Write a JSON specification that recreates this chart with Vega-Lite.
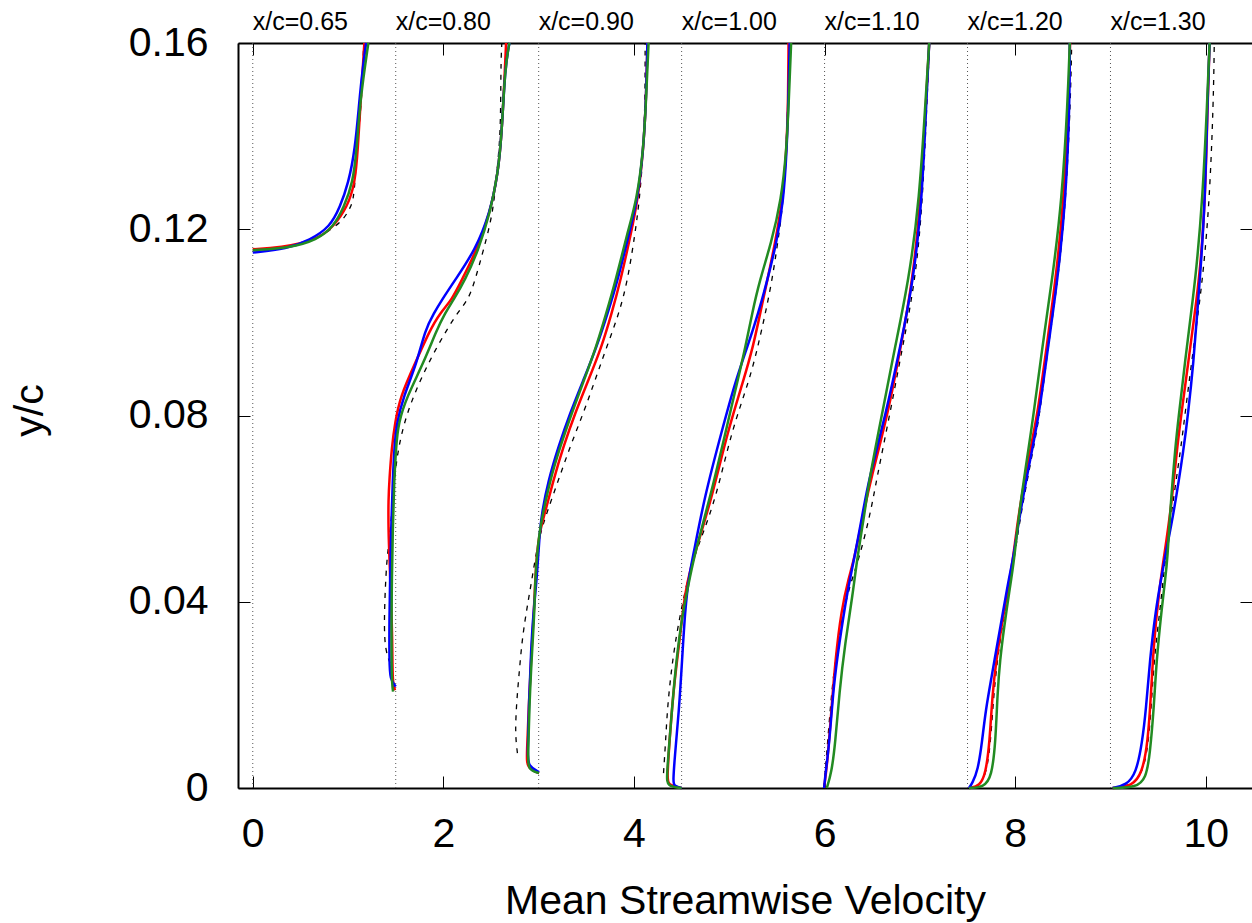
{
  "$schema": "https://vega.github.io/schema/vega-lite/v6.json",
  "autosize": {"type": "none"},
  "padding": {"left": 238, "top": 43, "right": 0, "bottom": 135},
  "width": 1014,
  "height": 745,
  "config": {
    "view": {"stroke": null},
    "font": "Liberation Sans",
    "axis": {
      "domainColor": "#000000", "domainWidth": 2, "tickColor": "#000000", "tickWidth": 1,
      "labelFont": "Liberation Sans", "labelFontSize": 41, "labelColor": "#000000",
      "titleFont": "Liberation Sans", "titleFontSize": 41, "titleFontWeight": "normal", "titleColor": "#000000",
      "labelFlush": false, "labelOverlap": false, "labelBound": false, "grid": false
    }
  },
  "datasets": {
    "st": [
      {"lab": "x/c=0.65", "off": 0},
      {"lab": "x/c=0.80", "off": 1.5},
      {"lab": "x/c=0.90", "off": 3.0},
      {"lab": "x/c=1.00", "off": 4.5},
      {"lab": "x/c=1.10", "off": 6.0},
      {"lab": "x/c=1.20", "off": 7.5},
      {"lab": "x/c=1.30", "off": 9.0}
    ],
    "p": [
      {"s":"exp","xc":"0.65","u":0.000,"y":0.1155},{"s":"exp","xc":"0.65","u":0.496,"y":0.1166},{"s":"exp","xc":"0.65","u":0.636,"y":0.1177},{"s":"exp","xc":"0.65","u":0.811,"y":0.1198},{"s":"exp","xc":"0.65","u":0.951,"y":0.1220},{"s":"exp","xc":"0.65","u":1.028,"y":0.1248},{"s":"exp","xc":"0.65","u":1.053,"y":0.1263},{"s":"exp","xc":"0.65","u":1.073,"y":0.1299},{"s":"exp","xc":"0.65","u":1.091,"y":0.1370},{"s":"exp","xc":"0.65","u":1.144,"y":0.1478},{"s":"exp","xc":"0.65","u":1.161,"y":0.1579},{"s":"exp","xc":"0.65","u":1.163,"y":0.16},
      {"s":"red","xc":"0.65","u":0.000,"y":0.1157},{"s":"red","xc":"0.65","u":0.286,"y":0.1160},{"s":"red","xc":"0.65","u":0.672,"y":0.1177},{"s":"red","xc":"0.65","u":0.846,"y":0.1205},{"s":"red","xc":"0.65","u":0.993,"y":0.1248},{"s":"red","xc":"0.65","u":1.073,"y":0.1299},{"s":"red","xc":"0.65","u":1.102,"y":0.1370},{"s":"red","xc":"0.65","u":1.133,"y":0.1478},{"s":"red","xc":"0.65","u":1.171,"y":0.16},
      {"s":"blue","xc":"0.65","u":0.000,"y":0.1150},{"s":"blue","xc":"0.65","u":0.357,"y":0.1158},{"s":"blue","xc":"0.65","u":0.601,"y":0.1177},{"s":"blue","xc":"0.65","u":0.811,"y":0.1205},{"s":"blue","xc":"0.65","u":0.916,"y":0.1248},{"s":"blue","xc":"0.65","u":1.003,"y":0.1299},{"s":"blue","xc":"0.65","u":1.073,"y":0.1370},{"s":"blue","xc":"0.65","u":1.119,"y":0.1478},{"s":"blue","xc":"0.65","u":1.152,"y":0.1542},{"s":"blue","xc":"0.65","u":1.189,"y":0.16},
      {"s":"green","xc":"0.65","u":0.000,"y":0.1155},{"s":"green","xc":"0.65","u":0.391,"y":0.1160},{"s":"green","xc":"0.65","u":0.672,"y":0.1177},{"s":"green","xc":"0.65","u":0.846,"y":0.1205},{"s":"green","xc":"0.65","u":0.958,"y":0.1248},{"s":"green","xc":"0.65","u":1.049,"y":0.1299},{"s":"green","xc":"0.65","u":1.091,"y":0.1370},{"s":"green","xc":"0.65","u":1.126,"y":0.1478},{"s":"green","xc":"0.65","u":1.213,"y":0.16},

      {"s":"exp","xc":"0.80","u":1.441,"y":0.0268},{"s":"exp","xc":"0.80","u":1.391,"y":0.0296},{"s":"exp","xc":"0.80","u":1.378,"y":0.0346},{"s":"exp","xc":"0.80","u":1.388,"y":0.0419},{"s":"exp","xc":"0.80","u":1.406,"y":0.0490},{"s":"exp","xc":"0.80","u":1.433,"y":0.0533},{"s":"exp","xc":"0.80","u":1.459,"y":0.0591},{"s":"exp","xc":"0.80","u":1.483,"y":0.0661},{"s":"exp","xc":"0.80","u":1.528,"y":0.0733},{"s":"exp","xc":"0.80","u":1.616,"y":0.0805},{"s":"exp","xc":"0.80","u":1.756,"y":0.0876},{"s":"exp","xc":"0.80","u":1.931,"y":0.0948},{"s":"exp","xc":"0.80","u":2.141,"y":0.1020},{"s":"exp","xc":"0.80","u":2.262,"y":0.1048},{"s":"exp","xc":"0.80","u":2.333,"y":0.1091},{"s":"exp","xc":"0.80","u":2.420,"y":0.1155},{"s":"exp","xc":"0.80","u":2.522,"y":0.1235},{"s":"exp","xc":"0.80","u":2.560,"y":0.1321},{"s":"exp","xc":"0.80","u":2.602,"y":0.1407},{"s":"exp","xc":"0.80","u":2.602,"y":0.1548},{"s":"exp","xc":"0.80","u":2.613,"y":0.16},
      {"s":"red","xc":"0.80","u":1.493,"y":0.0210},{"s":"red","xc":"0.80","u":1.465,"y":0.0225},{"s":"red","xc":"0.80","u":1.465,"y":0.0318},{"s":"red","xc":"0.80","u":1.451,"y":0.0404},{"s":"red","xc":"0.80","u":1.435,"y":0.0490},{"s":"red","xc":"0.80","u":1.423,"y":0.0554},{"s":"red","xc":"0.80","u":1.423,"y":0.0619},{"s":"red","xc":"0.80","u":1.433,"y":0.0661},{"s":"red","xc":"0.80","u":1.459,"y":0.0733},{"s":"red","xc":"0.80","u":1.493,"y":0.0784},{"s":"red","xc":"0.80","u":1.546,"y":0.0840},{"s":"red","xc":"0.80","u":1.703,"y":0.0912},{"s":"red","xc":"0.80","u":1.860,"y":0.0984},{"s":"red","xc":"0.80","u":1.965,"y":0.1020},{"s":"red","xc":"0.80","u":2.088,"y":0.1048},{"s":"red","xc":"0.80","u":2.193,"y":0.1091},{"s":"red","xc":"0.80","u":2.350,"y":0.1155},{"s":"red","xc":"0.80","u":2.490,"y":0.1235},{"s":"red","xc":"0.80","u":2.574,"y":0.1321},{"s":"red","xc":"0.80","u":2.613,"y":0.1407},{"s":"red","xc":"0.80","u":2.647,"y":0.1548},{"s":"red","xc":"0.80","u":2.658,"y":0.16},
      {"s":"blue","xc":"0.80","u":1.501,"y":0.0218},{"s":"blue","xc":"0.80","u":1.441,"y":0.0232},{"s":"blue","xc":"0.80","u":1.433,"y":0.0275},{"s":"blue","xc":"0.80","u":1.433,"y":0.0361},{"s":"blue","xc":"0.80","u":1.441,"y":0.0447},{"s":"blue","xc":"0.80","u":1.451,"y":0.0554},{"s":"blue","xc":"0.80","u":1.469,"y":0.0661},{"s":"blue","xc":"0.80","u":1.486,"y":0.0733},{"s":"blue","xc":"0.80","u":1.511,"y":0.0784},{"s":"blue","xc":"0.80","u":1.580,"y":0.0840},{"s":"blue","xc":"0.80","u":1.721,"y":0.0912},{"s":"blue","xc":"0.80","u":1.808,"y":0.0984},{"s":"blue","xc":"0.80","u":1.902,"y":0.1020},{"s":"blue","xc":"0.80","u":1.983,"y":0.1048},{"s":"blue","xc":"0.80","u":2.123,"y":0.1091},{"s":"blue","xc":"0.80","u":2.333,"y":0.1155},{"s":"blue","xc":"0.80","u":2.490,"y":0.1235},{"s":"blue","xc":"0.80","u":2.574,"y":0.1321},{"s":"blue","xc":"0.80","u":2.613,"y":0.1407},{"s":"blue","xc":"0.80","u":2.647,"y":0.1548},{"s":"blue","xc":"0.80","u":2.693,"y":0.16},
      {"s":"green","xc":"0.80","u":1.472,"y":0.0207},{"s":"green","xc":"0.80","u":1.456,"y":0.0232},{"s":"green","xc":"0.80","u":1.456,"y":0.0361},{"s":"green","xc":"0.80","u":1.459,"y":0.0447},{"s":"green","xc":"0.80","u":1.469,"y":0.0554},{"s":"green","xc":"0.80","u":1.483,"y":0.0661},{"s":"green","xc":"0.80","u":1.504,"y":0.0733},{"s":"green","xc":"0.80","u":1.528,"y":0.0784},{"s":"green","xc":"0.80","u":1.616,"y":0.0840},{"s":"green","xc":"0.80","u":1.790,"y":0.0912},{"s":"green","xc":"0.80","u":1.931,"y":0.0984},{"s":"green","xc":"0.80","u":2.018,"y":0.1020},{"s":"green","xc":"0.80","u":2.105,"y":0.1048},{"s":"green","xc":"0.80","u":2.228,"y":0.1091},{"s":"green","xc":"0.80","u":2.367,"y":0.1155},{"s":"green","xc":"0.80","u":2.490,"y":0.1235},{"s":"green","xc":"0.80","u":2.574,"y":0.1321},{"s":"green","xc":"0.80","u":2.613,"y":0.1407},{"s":"green","xc":"0.80","u":2.647,"y":0.1548},{"s":"green","xc":"0.80","u":2.693,"y":0.16},

      {"s":"exp","xc":"0.90","u":2.777,"y":0.0075},{"s":"exp","xc":"0.90","u":2.752,"y":0.0118},{"s":"exp","xc":"0.90","u":2.770,"y":0.0189},{"s":"exp","xc":"0.90","u":2.798,"y":0.0253},{"s":"exp","xc":"0.90","u":2.823,"y":0.0311},{"s":"exp","xc":"0.90","u":2.857,"y":0.0361},{"s":"exp","xc":"0.90","u":2.892,"y":0.0404},{"s":"exp","xc":"0.90","u":2.928,"y":0.0447},{"s":"exp","xc":"0.90","u":2.962,"y":0.0490},{"s":"exp","xc":"0.90","u":3.007,"y":0.0540},{"s":"exp","xc":"0.90","u":3.085,"y":0.0591},{"s":"exp","xc":"0.90","u":3.207,"y":0.0661},{"s":"exp","xc":"0.90","u":3.329,"y":0.0733},{"s":"exp","xc":"0.90","u":3.469,"y":0.0805},{"s":"exp","xc":"0.90","u":3.592,"y":0.0876},{"s":"exp","xc":"0.90","u":3.715,"y":0.0948},{"s":"exp","xc":"0.90","u":3.845,"y":0.1020},{"s":"exp","xc":"0.90","u":3.935,"y":0.1091},{"s":"exp","xc":"0.90","u":4.012,"y":0.1192},{"s":"exp","xc":"0.90","u":4.058,"y":0.1263},{"s":"exp","xc":"0.90","u":4.099,"y":0.1370},{"s":"exp","xc":"0.90","u":4.117,"y":0.1478},{"s":"exp","xc":"0.90","u":4.117,"y":0.16},
      {"s":"red","xc":"0.90","u":3.004,"y":0.0032},{"s":"red","xc":"0.90","u":2.875,"y":0.0043},{"s":"red","xc":"0.90","u":2.875,"y":0.0071},{"s":"red","xc":"0.90","u":2.899,"y":0.0189},{"s":"red","xc":"0.90","u":2.925,"y":0.0296},{"s":"red","xc":"0.90","u":2.952,"y":0.0382},{"s":"red","xc":"0.90","u":2.962,"y":0.0447},{"s":"red","xc":"0.90","u":2.994,"y":0.0540},{"s":"red","xc":"0.90","u":3.067,"y":0.0591},{"s":"red","xc":"0.90","u":3.154,"y":0.0661},{"s":"red","xc":"0.90","u":3.259,"y":0.0733},{"s":"red","xc":"0.90","u":3.382,"y":0.0805},{"s":"red","xc":"0.90","u":3.522,"y":0.0876},{"s":"red","xc":"0.90","u":3.662,"y":0.0948},{"s":"red","xc":"0.90","u":3.767,"y":0.1020},{"s":"red","xc":"0.90","u":3.860,"y":0.1091},{"s":"red","xc":"0.90","u":3.970,"y":0.1192},{"s":"red","xc":"0.90","u":4.040,"y":0.1263},{"s":"red","xc":"0.90","u":4.099,"y":0.1370},{"s":"red","xc":"0.90","u":4.127,"y":0.1478},{"s":"red","xc":"0.90","u":4.141,"y":0.16},
      {"s":"blue","xc":"0.90","u":3.004,"y":0.0034},{"s":"blue","xc":"0.90","u":2.889,"y":0.0047},{"s":"blue","xc":"0.90","u":2.884,"y":0.0071},{"s":"blue","xc":"0.90","u":2.899,"y":0.0189},{"s":"blue","xc":"0.90","u":2.920,"y":0.0296},{"s":"blue","xc":"0.90","u":2.946,"y":0.0382},{"s":"blue","xc":"0.90","u":2.980,"y":0.0447},{"s":"blue","xc":"0.90","u":3.007,"y":0.0540},{"s":"blue","xc":"0.90","u":3.033,"y":0.0591},{"s":"blue","xc":"0.90","u":3.102,"y":0.0661},{"s":"blue","xc":"0.90","u":3.207,"y":0.0733},{"s":"blue","xc":"0.90","u":3.329,"y":0.0805},{"s":"blue","xc":"0.90","u":3.469,"y":0.0876},{"s":"blue","xc":"0.90","u":3.610,"y":0.0948},{"s":"blue","xc":"0.90","u":3.725,"y":0.1020},{"s":"blue","xc":"0.90","u":3.830,"y":0.1091},{"s":"blue","xc":"0.90","u":3.950,"y":0.1192},{"s":"blue","xc":"0.90","u":4.036,"y":0.1263},{"s":"blue","xc":"0.90","u":4.099,"y":0.1370},{"s":"blue","xc":"0.90","u":4.127,"y":0.1478},{"s":"blue","xc":"0.90","u":4.141,"y":0.16},
      {"s":"green","xc":"0.90","u":3.004,"y":0.0032},{"s":"green","xc":"0.90","u":2.884,"y":0.0039},{"s":"green","xc":"0.90","u":2.889,"y":0.0071},{"s":"green","xc":"0.90","u":2.904,"y":0.0189},{"s":"green","xc":"0.90","u":2.931,"y":0.0296},{"s":"green","xc":"0.90","u":2.957,"y":0.0382},{"s":"green","xc":"0.90","u":2.962,"y":0.0447},{"s":"green","xc":"0.90","u":2.999,"y":0.0540},{"s":"green","xc":"0.90","u":3.046,"y":0.0591},{"s":"green","xc":"0.90","u":3.120,"y":0.0661},{"s":"green","xc":"0.90","u":3.225,"y":0.0733},{"s":"green","xc":"0.90","u":3.347,"y":0.0805},{"s":"green","xc":"0.90","u":3.476,"y":0.0876},{"s":"green","xc":"0.90","u":3.605,"y":0.0948},{"s":"green","xc":"0.90","u":3.710,"y":0.1020},{"s":"green","xc":"0.90","u":3.810,"y":0.1091},{"s":"green","xc":"0.90","u":3.930,"y":0.1192},{"s":"green","xc":"0.90","u":4.030,"y":0.1263},{"s":"green","xc":"0.90","u":4.099,"y":0.1370},{"s":"green","xc":"0.90","u":4.127,"y":0.1478},{"s":"green","xc":"0.90","u":4.153,"y":0.16},

      {"s":"exp","xc":"1.00","u":4.310,"y":0.0032},{"s":"exp","xc":"1.00","u":4.331,"y":0.0097},{"s":"exp","xc":"1.00","u":4.350,"y":0.0168},{"s":"exp","xc":"1.00","u":4.384,"y":0.0239},{"s":"exp","xc":"1.00","u":4.431,"y":0.0311},{"s":"exp","xc":"1.00","u":4.494,"y":0.0382},{"s":"exp","xc":"1.00","u":4.570,"y":0.0454},{"s":"exp","xc":"1.00","u":4.638,"y":0.0500},{"s":"exp","xc":"1.00","u":4.720,"y":0.0545},{"s":"exp","xc":"1.00","u":4.864,"y":0.0626},{"s":"exp","xc":"1.00","u":5.027,"y":0.0769},{"s":"exp","xc":"1.00","u":5.212,"y":0.0876},{"s":"exp","xc":"1.00","u":5.300,"y":0.0948},{"s":"exp","xc":"1.00","u":5.380,"y":0.1020},{"s":"exp","xc":"1.00","u":5.449,"y":0.1091},{"s":"exp","xc":"1.00","u":5.508,"y":0.1170},{"s":"exp","xc":"1.00","u":5.570,"y":0.1263},{"s":"exp","xc":"1.00","u":5.595,"y":0.1370},{"s":"exp","xc":"1.00","u":5.617,"y":0.1478},{"s":"exp","xc":"1.00","u":5.634,"y":0.16},
      {"s":"red","xc":"1.00","u":4.500,"y":0.0},{"s":"red","xc":"1.00","u":4.353,"y":0.0006},{"s":"red","xc":"1.00","u":4.350,"y":0.0024},{"s":"red","xc":"1.00","u":4.371,"y":0.0097},{"s":"red","xc":"1.00","u":4.412,"y":0.0204},{"s":"red","xc":"1.00","u":4.453,"y":0.0275},{"s":"red","xc":"1.00","u":4.494,"y":0.0346},{"s":"red","xc":"1.00","u":4.536,"y":0.0419},{"s":"red","xc":"1.00","u":4.589,"y":0.0468},{"s":"red","xc":"1.00","u":4.660,"y":0.0518},{"s":"red","xc":"1.00","u":4.820,"y":0.0626},{"s":"red","xc":"1.00","u":4.987,"y":0.0769},{"s":"red","xc":"1.00","u":5.150,"y":0.0876},{"s":"red","xc":"1.00","u":5.250,"y":0.0948},{"s":"red","xc":"1.00","u":5.325,"y":0.1020},{"s":"red","xc":"1.00","u":5.400,"y":0.1091},{"s":"red","xc":"1.00","u":5.480,"y":0.1170},{"s":"red","xc":"1.00","u":5.560,"y":0.1263},{"s":"red","xc":"1.00","u":5.601,"y":0.1370},{"s":"red","xc":"1.00","u":5.618,"y":0.1478},{"s":"red","xc":"1.00","u":5.622,"y":0.16},
      {"s":"blue","xc":"1.00","u":4.500,"y":0.0},{"s":"blue","xc":"1.00","u":4.416,"y":0.0004},{"s":"blue","xc":"1.00","u":4.412,"y":0.0017},{"s":"blue","xc":"1.00","u":4.425,"y":0.0060},{"s":"blue","xc":"1.00","u":4.473,"y":0.0168},{"s":"blue","xc":"1.00","u":4.505,"y":0.0275},{"s":"blue","xc":"1.00","u":4.536,"y":0.0382},{"s":"blue","xc":"1.00","u":4.576,"y":0.0454},{"s":"blue","xc":"1.00","u":4.627,"y":0.0505},{"s":"blue","xc":"1.00","u":4.741,"y":0.0626},{"s":"blue","xc":"1.00","u":4.924,"y":0.0769},{"s":"blue","xc":"1.00","u":5.068,"y":0.0876},{"s":"blue","xc":"1.00","u":5.191,"y":0.0948},{"s":"blue","xc":"1.00","u":5.305,"y":0.1020},{"s":"blue","xc":"1.00","u":5.400,"y":0.1091},{"s":"blue","xc":"1.00","u":5.495,"y":0.1170},{"s":"blue","xc":"1.00","u":5.570,"y":0.1263},{"s":"blue","xc":"1.00","u":5.603,"y":0.1370},{"s":"blue","xc":"1.00","u":5.621,"y":0.1478},{"s":"blue","xc":"1.00","u":5.634,"y":0.16},
      {"s":"green","xc":"1.00","u":4.500,"y":0.0},{"s":"green","xc":"1.00","u":4.347,"y":0.0004},{"s":"green","xc":"1.00","u":4.343,"y":0.0024},{"s":"green","xc":"1.00","u":4.384,"y":0.0132},{"s":"green","xc":"1.00","u":4.442,"y":0.0275},{"s":"green","xc":"1.00","u":4.515,"y":0.0382},{"s":"green","xc":"1.00","u":4.589,"y":0.0454},{"s":"green","xc":"1.00","u":4.640,"y":0.0505},{"s":"green","xc":"1.00","u":4.802,"y":0.0626},{"s":"green","xc":"1.00","u":4.967,"y":0.0769},{"s":"green","xc":"1.00","u":5.089,"y":0.0876},{"s":"green","xc":"1.00","u":5.171,"y":0.0948},{"s":"green","xc":"1.00","u":5.240,"y":0.1020},{"s":"green","xc":"1.00","u":5.320,"y":0.1091},{"s":"green","xc":"1.00","u":5.440,"y":0.1170},{"s":"green","xc":"1.00","u":5.545,"y":0.1263},{"s":"green","xc":"1.00","u":5.601,"y":0.1370},{"s":"green","xc":"1.00","u":5.625,"y":0.1478},{"s":"green","xc":"1.00","u":5.649,"y":0.16},

      {"s":"exp","xc":"1.10","u":5.991,"y":0.0},{"s":"exp","xc":"1.10","u":6.032,"y":0.0097},{"s":"exp","xc":"1.10","u":6.072,"y":0.0204},{"s":"exp","xc":"1.10","u":6.134,"y":0.0311},{"s":"exp","xc":"1.10","u":6.236,"y":0.0419},{"s":"exp","xc":"1.10","u":6.360,"y":0.0490},{"s":"exp","xc":"1.10","u":6.483,"y":0.0591},{"s":"exp","xc":"1.10","u":6.544,"y":0.0661},{"s":"exp","xc":"1.10","u":6.687,"y":0.0805},{"s":"exp","xc":"1.10","u":6.819,"y":0.0948},{"s":"exp","xc":"1.10","u":6.954,"y":0.1091},{"s":"exp","xc":"1.10","u":7.030,"y":0.1263},{"s":"exp","xc":"1.10","u":7.075,"y":0.1478},{"s":"exp","xc":"1.10","u":7.102,"y":0.16},
      {"s":"red","xc":"1.10","u":5.995,"y":0.0},{"s":"red","xc":"1.10","u":6.032,"y":0.0060},{"s":"red","xc":"1.10","u":6.072,"y":0.0168},{"s":"red","xc":"1.10","u":6.113,"y":0.0275},{"s":"red","xc":"1.10","u":6.175,"y":0.0382},{"s":"red","xc":"1.10","u":6.257,"y":0.0454},{"s":"red","xc":"1.10","u":6.309,"y":0.0490},{"s":"red","xc":"1.10","u":6.409,"y":0.0591},{"s":"red","xc":"1.10","u":6.483,"y":0.0661},{"s":"red","xc":"1.10","u":6.667,"y":0.0805},{"s":"red","xc":"1.10","u":6.800,"y":0.0948},{"s":"red","xc":"1.10","u":6.925,"y":0.1091},{"s":"red","xc":"1.10","u":7.010,"y":0.1263},{"s":"red","xc":"1.10","u":7.065,"y":0.1478},{"s":"red","xc":"1.10","u":7.098,"y":0.16},
      {"s":"blue","xc":"1.10","u":5.995,"y":0.0},{"s":"blue","xc":"1.10","u":6.010,"y":0.0032},{"s":"blue","xc":"1.10","u":6.051,"y":0.0097},{"s":"blue","xc":"1.10","u":6.093,"y":0.0218},{"s":"blue","xc":"1.10","u":6.154,"y":0.0311},{"s":"blue","xc":"1.10","u":6.236,"y":0.0419},{"s":"blue","xc":"1.10","u":6.309,"y":0.0490},{"s":"blue","xc":"1.10","u":6.401,"y":0.0591},{"s":"blue","xc":"1.10","u":6.462,"y":0.0661},{"s":"blue","xc":"1.10","u":6.645,"y":0.0805},{"s":"blue","xc":"1.10","u":6.795,"y":0.0948},{"s":"blue","xc":"1.10","u":6.933,"y":0.1091},{"s":"blue","xc":"1.10","u":7.023,"y":0.1263},{"s":"blue","xc":"1.10","u":7.068,"y":0.1478},{"s":"blue","xc":"1.10","u":7.098,"y":0.16},
      {"s":"green","xc":"1.10","u":6.023,"y":0.0},{"s":"green","xc":"1.10","u":6.072,"y":0.0032},{"s":"green","xc":"1.10","u":6.113,"y":0.0097},{"s":"green","xc":"1.10","u":6.154,"y":0.0204},{"s":"green","xc":"1.10","u":6.215,"y":0.0311},{"s":"green","xc":"1.10","u":6.298,"y":0.0419},{"s":"green","xc":"1.10","u":6.339,"y":0.0490},{"s":"green","xc":"1.10","u":6.421,"y":0.0591},{"s":"green","xc":"1.10","u":6.467,"y":0.0661},{"s":"green","xc":"1.10","u":6.605,"y":0.0805},{"s":"green","xc":"1.10","u":6.740,"y":0.0948},{"s":"green","xc":"1.10","u":6.884,"y":0.1091},{"s":"green","xc":"1.10","u":6.995,"y":0.1263},{"s":"green","xc":"1.10","u":7.060,"y":0.1478},{"s":"green","xc":"1.10","u":7.098,"y":0.16},

      {"s":"exp","xc":"1.20","u":7.516,"y":0.0},{"s":"exp","xc":"1.20","u":7.653,"y":0.0006},{"s":"exp","xc":"1.20","u":7.732,"y":0.0060},{"s":"exp","xc":"1.20","u":7.773,"y":0.0204},{"s":"exp","xc":"1.20","u":7.835,"y":0.0311},{"s":"exp","xc":"1.20","u":7.894,"y":0.0382},{"s":"exp","xc":"1.20","u":7.957,"y":0.0454},{"s":"exp","xc":"1.20","u":7.988,"y":0.0490},{"s":"exp","xc":"1.20","u":8.060,"y":0.0591},{"s":"exp","xc":"1.20","u":8.195,"y":0.0733},{"s":"exp","xc":"1.20","u":8.260,"y":0.0805},{"s":"exp","xc":"1.20","u":8.345,"y":0.0948},{"s":"exp","xc":"1.20","u":8.450,"y":0.1091},{"s":"exp","xc":"1.20","u":8.534,"y":0.1263},{"s":"exp","xc":"1.20","u":8.581,"y":0.1478},{"s":"exp","xc":"1.20","u":8.593,"y":0.16},
      {"s":"red","xc":"1.20","u":7.515,"y":0.0},{"s":"red","xc":"1.20","u":7.630,"y":0.0004},{"s":"red","xc":"1.20","u":7.691,"y":0.0032},{"s":"red","xc":"1.20","u":7.732,"y":0.0097},{"s":"red","xc":"1.20","u":7.761,"y":0.0204},{"s":"red","xc":"1.20","u":7.803,"y":0.0275},{"s":"red","xc":"1.20","u":7.855,"y":0.0346},{"s":"red","xc":"1.20","u":7.917,"y":0.0419},{"s":"red","xc":"1.20","u":7.978,"y":0.0490},{"s":"red","xc":"1.20","u":8.035,"y":0.0591},{"s":"red","xc":"1.20","u":8.163,"y":0.0733},{"s":"red","xc":"1.20","u":8.237,"y":0.0805},{"s":"red","xc":"1.20","u":8.330,"y":0.0948},{"s":"red","xc":"1.20","u":8.425,"y":0.1091},{"s":"red","xc":"1.20","u":8.511,"y":0.1263},{"s":"red","xc":"1.20","u":8.562,"y":0.1478},{"s":"red","xc":"1.20","u":8.576,"y":0.16},
      {"s":"blue","xc":"1.20","u":7.515,"y":0.0},{"s":"blue","xc":"1.20","u":7.548,"y":0.0009},{"s":"blue","xc":"1.20","u":7.610,"y":0.0039},{"s":"blue","xc":"1.20","u":7.651,"y":0.0097},{"s":"blue","xc":"1.20","u":7.691,"y":0.0168},{"s":"blue","xc":"1.20","u":7.753,"y":0.0239},{"s":"blue","xc":"1.20","u":7.814,"y":0.0311},{"s":"blue","xc":"1.20","u":7.876,"y":0.0382},{"s":"blue","xc":"1.20","u":7.937,"y":0.0454},{"s":"blue","xc":"1.20","u":7.978,"y":0.0490},{"s":"blue","xc":"1.20","u":8.050,"y":0.0591},{"s":"blue","xc":"1.20","u":8.184,"y":0.0733},{"s":"blue","xc":"1.20","u":8.253,"y":0.0805},{"s":"blue","xc":"1.20","u":8.345,"y":0.0948},{"s":"blue","xc":"1.20","u":8.445,"y":0.1091},{"s":"blue","xc":"1.20","u":8.532,"y":0.1263},{"s":"blue","xc":"1.20","u":8.573,"y":0.1478},{"s":"blue","xc":"1.20","u":8.573,"y":0.16},
      {"s":"green","xc":"1.20","u":7.516,"y":0.0},{"s":"green","xc":"1.20","u":7.672,"y":0.0002},{"s":"green","xc":"1.20","u":7.753,"y":0.0024},{"s":"green","xc":"1.20","u":7.794,"y":0.0097},{"s":"green","xc":"1.20","u":7.814,"y":0.0204},{"s":"green","xc":"1.20","u":7.841,"y":0.0275},{"s":"green","xc":"1.20","u":7.884,"y":0.0346},{"s":"green","xc":"1.20","u":7.936,"y":0.0419},{"s":"green","xc":"1.20","u":7.990,"y":0.0490},{"s":"green","xc":"1.20","u":8.040,"y":0.0591},{"s":"green","xc":"1.20","u":8.143,"y":0.0733},{"s":"green","xc":"1.20","u":8.195,"y":0.0805},{"s":"green","xc":"1.20","u":8.285,"y":0.0948},{"s":"green","xc":"1.20","u":8.388,"y":0.1091},{"s":"green","xc":"1.20","u":8.491,"y":0.1263},{"s":"green","xc":"1.20","u":8.552,"y":0.1478},{"s":"green","xc":"1.20","u":8.573,"y":0.16},

      {"s":"exp","xc":"1.30","u":9.023,"y":0.0},{"s":"exp","xc":"1.30","u":9.206,"y":0.0004},{"s":"exp","xc":"1.30","u":9.352,"y":0.0032},{"s":"exp","xc":"1.30","u":9.416,"y":0.0125},{"s":"exp","xc":"1.30","u":9.454,"y":0.0275},{"s":"exp","xc":"1.30","u":9.521,"y":0.0382},{"s":"exp","xc":"1.30","u":9.573,"y":0.0490},{"s":"exp","xc":"1.30","u":9.639,"y":0.0591},{"s":"exp","xc":"1.30","u":9.741,"y":0.0733},{"s":"exp","xc":"1.30","u":9.783,"y":0.0805},{"s":"exp","xc":"1.30","u":9.850,"y":0.0912},{"s":"exp","xc":"1.30","u":9.920,"y":0.1020},{"s":"exp","xc":"1.30","u":9.975,"y":0.1110},{"s":"exp","xc":"1.30","u":10.040,"y":0.1263},{"s":"exp","xc":"1.30","u":10.081,"y":0.1478},{"s":"exp","xc":"1.30","u":10.089,"y":0.16},
      {"s":"red","xc":"1.30","u":9.023,"y":0.0},{"s":"red","xc":"1.30","u":9.229,"y":0.0004},{"s":"red","xc":"1.30","u":9.332,"y":0.0032},{"s":"red","xc":"1.30","u":9.392,"y":0.0097},{"s":"red","xc":"1.30","u":9.426,"y":0.0204},{"s":"red","xc":"1.30","u":9.454,"y":0.0311},{"s":"red","xc":"1.30","u":9.508,"y":0.0419},{"s":"red","xc":"1.30","u":9.556,"y":0.0490},{"s":"red","xc":"1.30","u":9.631,"y":0.0591},{"s":"red","xc":"1.30","u":9.700,"y":0.0733},{"s":"red","xc":"1.30","u":9.745,"y":0.0805},{"s":"red","xc":"1.30","u":9.815,"y":0.0912},{"s":"red","xc":"1.30","u":9.885,"y":0.1020},{"s":"red","xc":"1.30","u":9.940,"y":0.1110},{"s":"red","xc":"1.30","u":9.995,"y":0.1263},{"s":"red","xc":"1.30","u":10.020,"y":0.1478},{"s":"red","xc":"1.30","u":10.040,"y":0.16},
      {"s":"blue","xc":"1.30","u":9.023,"y":0.0},{"s":"blue","xc":"1.30","u":9.167,"y":0.0006},{"s":"blue","xc":"1.30","u":9.270,"y":0.0032},{"s":"blue","xc":"1.30","u":9.332,"y":0.0097},{"s":"blue","xc":"1.30","u":9.373,"y":0.0168},{"s":"blue","xc":"1.30","u":9.413,"y":0.0275},{"s":"blue","xc":"1.30","u":9.474,"y":0.0382},{"s":"blue","xc":"1.30","u":9.536,"y":0.0454},{"s":"blue","xc":"1.30","u":9.575,"y":0.0500},{"s":"blue","xc":"1.30","u":9.665,"y":0.0591},{"s":"blue","xc":"1.30","u":9.772,"y":0.0733},{"s":"blue","xc":"1.30","u":9.815,"y":0.0805},{"s":"blue","xc":"1.30","u":9.870,"y":0.0912},{"s":"blue","xc":"1.30","u":9.910,"y":0.1020},{"s":"blue","xc":"1.30","u":9.945,"y":0.1110},{"s":"blue","xc":"1.30","u":9.993,"y":0.1263},{"s":"blue","xc":"1.30","u":10.018,"y":0.1478},{"s":"blue","xc":"1.30","u":10.040,"y":0.16},
      {"s":"green","xc":"1.30","u":9.023,"y":0.0},{"s":"green","xc":"1.30","u":9.270,"y":0.0001},{"s":"green","xc":"1.30","u":9.373,"y":0.0021},{"s":"green","xc":"1.30","u":9.413,"y":0.0071},{"s":"green","xc":"1.30","u":9.454,"y":0.0168},{"s":"green","xc":"1.30","u":9.483,"y":0.0275},{"s":"green","xc":"1.30","u":9.536,"y":0.0382},{"s":"green","xc":"1.30","u":9.577,"y":0.0454},{"s":"green","xc":"1.30","u":9.597,"y":0.0490},{"s":"green","xc":"1.30","u":9.625,"y":0.0591},{"s":"green","xc":"1.30","u":9.680,"y":0.0733},{"s":"green","xc":"1.30","u":9.720,"y":0.0805},{"s":"green","xc":"1.30","u":9.780,"y":0.0912},{"s":"green","xc":"1.30","u":9.846,"y":0.1020},{"s":"green","xc":"1.30","u":9.900,"y":0.1110},{"s":"green","xc":"1.30","u":9.966,"y":0.1263},{"s":"green","xc":"1.30","u":10.016,"y":0.1478},{"s":"green","xc":"1.30","u":10.040,"y":0.16}
    ]
  },
  "resolve": {"axis": {"x": "independent", "y": "independent"}},
  "layer": [
    {
      "data": {"name": "st"},
      "mark": {"type": "rule", "color": "#555555", "strokeWidth": 1, "strokeDash": [1, 3]},
      "encoding": {
        "x": {"field": "off", "type": "quantitative",
              "scale": {"domain": [-0.155, 10.485], "nice": false, "zero": false},
              "axis": {"orient": "bottom", "values": [0, 2, 4, 6, 8, 10], "format": "d", "title": "Mean Streamwise Velocity",
                       "tickSize": -12, "labelPadding": 38, "titleY": 125, "titleBaseline": "alphabetic"}}
      }
    },
    {
      "data": {"name": "st"},
      "mark": {"type": "text", "align": "left", "baseline": "alphabetic", "dy": -13, "fontSize": 25, "font": "Liberation Sans", "color": "#000000"},
      "encoding": {
        "x": {"field": "off", "type": "quantitative",
              "scale": {"domain": [-0.155, 10.485], "nice": false, "zero": false},
              "axis": {"orient": "top", "values": [0, 2, 4, 6, 8, 10], "labels": false, "title": null, "tickSize": -12}},
        "y": {"datum": 0.16, "type": "quantitative", "scale": {"domain": [0, 0.16], "nice": false, "zero": false}, "axis": null},
        "text": {"field": "lab"}
      }
    },
    {
      "data": {"name": "p"},
      "transform": [{"filter": "datum.s == 'exp'"}],
      "mark": {"type": "line", "color": "#000000", "strokeWidth": 1.3, "strokeDash": [5, 6], "interpolate": "basis"},
      "encoding": {
        "x": {"field": "u", "type": "quantitative", "scale": {"domain": [-0.155, 10.485], "nice": false, "zero": false}, "axis": null},
        "y": {"field": "y", "type": "quantitative", "scale": {"domain": [0, 0.16], "nice": false, "zero": false},
              "axis": {"orient": "left", "values": [0, 0.04, 0.08, 0.12, 0.16], "format": "~g", "title": "y/c",
                       "tickSize": -12, "labelPadding": 42, "titleAngle": -90, "titleX": -208, "titleY": 367,
                       "titleBaseline": "middle", "titleAlign": "center"}},
        "detail": {"field": "xc"},
        "order": {"field": "y", "type": "quantitative"}
      }
    },
    {
      "data": {"name": "p"},
      "transform": [{"filter": "datum.s == 'red'"}],
      "mark": {"type": "line", "color": "#ff0000", "strokeWidth": 2.5, "interpolate": "basis"},
      "encoding": {
        "x": {"field": "u", "type": "quantitative", "scale": {"domain": [-0.155, 10.485], "nice": false, "zero": false}, "axis": null},
        "y": {"field": "y", "type": "quantitative", "scale": {"domain": [0, 0.16], "nice": false, "zero": false},
              "axis": {"orient": "right", "values": [0, 0.04, 0.08, 0.12, 0.16], "labels": false, "title": null, "tickSize": -12, "domain": false}},
        "detail": {"field": "xc"},
        "order": {"field": "y", "type": "quantitative"}
      }
    },
    {
      "data": {"name": "p"},
      "transform": [{"filter": "datum.s == 'blue'"}],
      "mark": {"type": "line", "color": "#0000ff", "strokeWidth": 2.5, "interpolate": "basis"},
      "encoding": {
        "x": {"field": "u", "type": "quantitative", "scale": {"domain": [-0.155, 10.485], "nice": false, "zero": false}, "axis": null},
        "y": {"field": "y", "type": "quantitative", "scale": {"domain": [0, 0.16], "nice": false, "zero": false}, "axis": null},
        "detail": {"field": "xc"},
        "order": {"field": "y", "type": "quantitative"}
      }
    },
    {
      "data": {"name": "p"},
      "transform": [{"filter": "datum.s == 'green'"}],
      "mark": {"type": "line", "color": "#228b22", "strokeWidth": 2.5, "interpolate": "basis"},
      "encoding": {
        "x": {"field": "u", "type": "quantitative", "scale": {"domain": [-0.155, 10.485], "nice": false, "zero": false}, "axis": null},
        "y": {"field": "y", "type": "quantitative", "scale": {"domain": [0, 0.16], "nice": false, "zero": false}, "axis": null},
        "detail": {"field": "xc"},
        "order": {"field": "y", "type": "quantitative"}
      }
    }
  ]
}
